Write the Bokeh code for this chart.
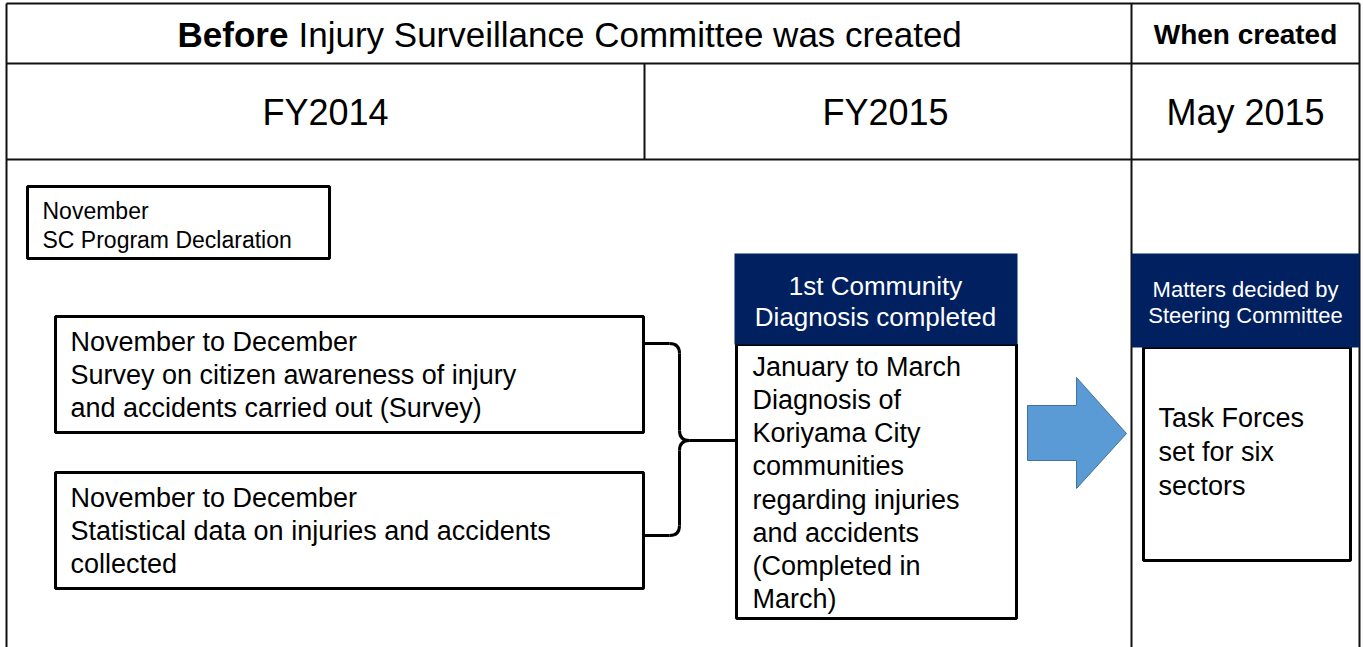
from bokeh.plotting import figure
from bokeh.models import Range1d
from bokeh.embed import file_html
from bokeh.resources import INLINE
from bokeh.core.properties import value

# ---------------- data / texts ----------------
title_bold = "Before"
title_rest = "Injury Surveillance Committee was created"
created_label = "When created"
periods = ["FY2014", "FY2015", "May 2015"]
period_x = [325, 885, 1245]

nov_lines = ["November", "SC Program Declaration"]
box1_lines = ["November to December",
              "Survey on citizen awareness of injury",
              "and accidents carried out (Survey)"]
box2_lines = ["November to December",
              "Statistical data on injuries and accidents",
              "collected"]
diag_head = ["1st Community", "Diagnosis completed"]
diag_lines = ["January to March", "Diagnosis of", "Koriyama City",
              "communities", "regarding injuries", "and accidents",
              "(Completed in", "March)"]
steer_head = ["Matters decided by", "Steering Committee"]
task_lines = ["Task Forces", "set for six", "sectors"]

# ---------------- layout (pixel coordinates) ----------------
W, H = 1363, 647
FONT = "Liberation Sans"
NAVY = "#002060"

# white boxes with black frame: left, right, top, bottom
box_l = [27, 55, 55, 736, 1143]
box_r = [329, 643, 643, 1016, 1350]
box_t = [186, 316, 472, 344, 347]
box_b = [258, 432, 588, 618, 560]

# navy header boxes
head_l = [734, 1131]
head_r = [1017, 1359]
head_t = [253, 253]
head_b = [344, 347]

p = figure(width=W, height=H, x_range=Range1d(0, W), y_range=Range1d(H, 0),
           output_backend="svg", toolbar_location=None, min_border=0,
           x_axis_location=None, y_axis_location=None,
           outline_line_color=None, background_fill_color="white",
           border_fill_color="white",
           styles={"position": "absolute", "left": "0px", "top": "0px"})
p.grid.visible = False

# table grid lines
gx0 = [6, 6, 6, 1359, 644, 1131, 6]
gy0 = [3, 63, 159, 3, 63, 3, 3]
gx1 = [1359, 1359, 1359, 1359, 644, 1131, 6]
gy1 = [3, 63, 159, 647, 159, 647, 647]
p.segment(x0=gx0, y0=gy0, x1=gx1, y1=gy1, line_color="#111111", line_width=2)

# boxes
p.quad(left=box_l, right=box_r, top=box_t, bottom=box_b,
       fill_color="white", line_color="black", line_width=3)
p.quad(left=head_l, right=head_r, top=head_t, bottom=head_b,
       fill_color=NAVY, line_color=None)

# curly brace
bx_edge, bx_v, bx_tip = 643, 679, 735
by_top, by_mid, by_bot = 343, 440, 535
r = 10
p.segment(x0=[bx_edge, bx_v, bx_v + r, bx_v, bx_edge],
          y0=[by_top, by_top + r, by_mid, by_mid + r, by_bot],
          x1=[bx_v - r, bx_v, bx_tip, bx_v, bx_v - r],
          y1=[by_top, by_mid - r, by_mid, by_bot - r, by_bot],
          line_color="black", line_width=3)
p.quadratic(x0=[bx_v - r, bx_v, bx_v + r, bx_v],
            y0=[by_top, by_mid - r, by_mid, by_bot - r],
            x1=[bx_v, bx_v + r, bx_v, bx_v - r],
            y1=[by_top + r, by_mid, by_mid + r, by_bot],
            cx=[bx_v, bx_v, bx_v, bx_v],
            cy=[by_top, by_mid, by_mid, by_bot],
            line_color="black", line_width=3)

# block arrow
ax = [1027, 1076, 1076, 1126, 1076, 1076, 1027]
ay = [405, 405, 377, 433, 488, 460, 460]
p.patch(ax, ay, fill_color="#5B9BD5", line_color="#41719C", line_width=1)

def txt(xs, ys, texts, size, align="left", color="black", style="normal"):
    p.text(x=xs, y=ys, text=texts, text_font=value(FONT),
           text_font_size=size, text_align=align, text_baseline="middle",
           text_color=color, text_font_style=style)

# header texts
txt([177], [34], [title_bold], "35px", style="bold")
txt([298], [34], [title_rest], "35px")
txt([1245], [34], [created_label], "28px", align="center", style="bold")
txt(period_x, [112, 112, 112], periods, "36px", align="center")

# box texts
txt([42, 42], [210, 239], nov_lines, "23px")
txt([70] * 3, [341, 374, 407], box1_lines, "27px")
txt([70] * 3, [497, 530, 563], box2_lines, "27px")
txt([875, 875], [285, 316], diag_head, "26px", align="center", color="white")
txt([752] * 8, [366, 399, 432, 465, 499, 532, 565, 598], diag_lines, "27px")
txt([1245, 1245], [289, 315], steer_head, "22px", align="center", color="white")
txt([1158] * 3, [417, 451, 485], task_lines, "27px")

open("out.html", "w").write(file_html(p, INLINE))
